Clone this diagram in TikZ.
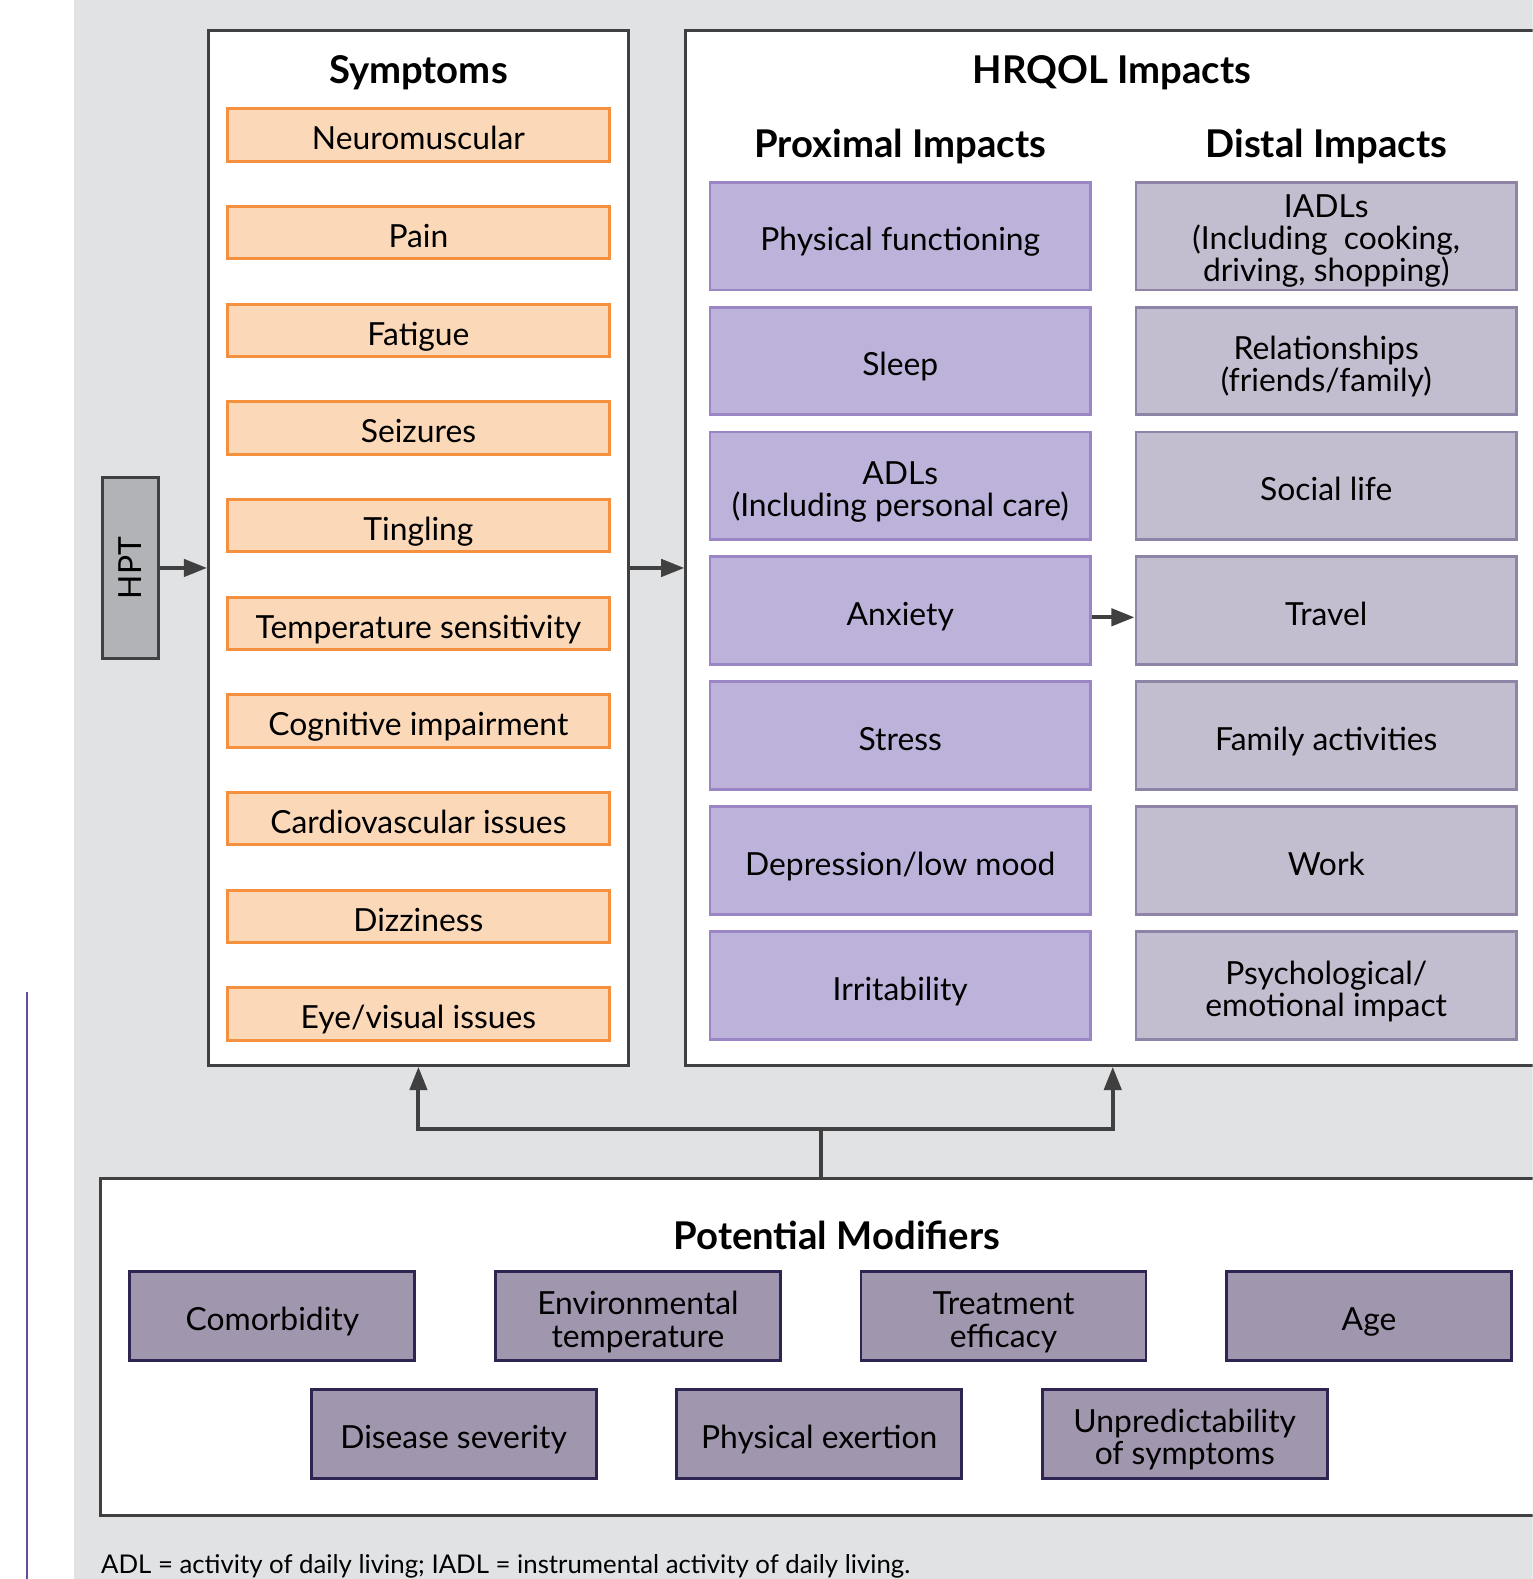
\documentclass[tikz,border=0pt]{standalone}
\usepackage{fontspec}
\setmainfont{Lato}
\usepackage{graphicx}
\usetikzlibrary{arrows.meta, positioning}
\definecolor{panelgray}{HTML}{E1E2E4}
\definecolor{darkline}{HTML}{404040}
\definecolor{symfill}{HTML}{FBD8B8}
\definecolor{symline}{HTML}{F5903E}
\definecolor{proxfill}{HTML}{BDB2D9}
\definecolor{proxline}{HTML}{9B86C5}
\definecolor{distfill}{HTML}{C3BECF}
\definecolor{distline}{HTML}{8E84A6}
\definecolor{modfill}{HTML}{A096AE}
\definecolor{modline}{HTML}{2F2552}
\definecolor{hptfill}{HTML}{B2B3B6}
\definecolor{rulepurple}{HTML}{6A4C9C}

\begin{document}
\begin{tikzpicture}[
  x=0.5pt, y=-0.5pt,
  node distance=21.1pt,
  frame/.style={draw=darkline, line width=1.4pt, fill=white},
  title/.style={font=\bfseries\fontsize{19}{22}\selectfont},
  box/.style={line width=1.4pt, align=center, inner sep=0pt,
    font=\fontsize{15.8}{16}\selectfont,
    execute at begin node={\rule{0pt}{18.7pt}},
    execute at end node={\rule[-4pt]{0pt}{4pt}}},
  twoline/.style={text height=34.7pt, text depth=4pt},
  threeline/.style={text height=49.5pt, text depth=4pt},
  symptom/.style={box, draw=symline, fill=symfill, minimum width=189.5pt, minimum height=26pt},
  prox/.style={box, draw=proxline, fill=proxfill, minimum width=189pt, minimum height=53.5pt},
  distal/.style={box, draw=distline, fill=distfill, minimum width=189pt, minimum height=53.5pt},
  modifier/.style={box, draw=modline, fill=modfill, minimum width=141.5pt, minimum height=44pt},
  hptbox/.style={draw=darkline, fill=hptfill, line width=1.4pt, inner sep=0pt,
    font=\fontsize{15.8}{16}\selectfont, minimum width=27.5pt, minimum height=90pt},
  link/.style={line width=2pt, draw=darkline},
  arr/.style={link, -{Triangle[length=11.5pt, width=8.5pt]}}
]
\useasboundingbox (0,0) rectangle (1522,1568);
\clip (0,0) rectangle (1522,1568);
\fill[panelgray] (73,0) rectangle (1522,1568);
\draw[rulepurple, line width=1.3pt] (27,985) -- (27,1568);

% symptoms column
\node[frame, minimum width=208.5pt, minimum height=514pt] (symp) at (415.5,544) {};
\node[title] (symptitle) at (415.5,72) {Symptoms};
\node[symptom] (neuro) at (415.5,134) {Neuromuscular};
\node[symptom, below=of neuro] (pain) {Pain};
\node[symptom, below=of pain] (fatigue) {Fatigue};
\node[symptom, below=of fatigue] (seizures) {Seizures};
\node[symptom, below=of seizures] (tingling) {Tingling};
\node[symptom, below=of tingling] (tempsens) {Temperature sensitivity};
\node[symptom, below=of tempsens] (cognitive) {Cognitive impairment};
\node[symptom, below=of cognitive] (cardio) {Cardiovascular issues};
\node[symptom, below=of cardio] (dizziness) {Dizziness};
\node[symptom, below=of dizziness] (visual) {Eye/visual issues};

\node[hptbox] (hpt) at (129.5,564) {\rotatebox{90}{HPT}};

% HRQOL impacts
\node[frame, minimum width=424pt, minimum height=514pt] (hrqol) at (1105,544) {};
\node[title] (hrqoltitle) at (1104,72) {HRQOL Impacts};
\node[title] (proxtitle) at (894,145) {Proximal Impacts};
\node[title] (disttitle) at (1317,145) {Distal Impacts};

\node[prox] (physfunc) at (894,234.5) {Physical functioning};
\node[prox, below=7.1pt of physfunc] (sleep) {Sleep};
\node[prox, twoline, below=7.1pt of sleep] (adl) {ADLs\\(Including personal care)};
\node[prox, below=7.1pt of adl] (anxiety) {Anxiety};
\node[prox, below=7.1pt of anxiety] (stress) {Stress};
\node[prox, below=7.1pt of stress] (mood) {Depression/low mood};
\node[prox, below=7.1pt of mood] (irritab) {Irritability};

\node[distal, threeline] (iadl) at (1317,234.5) {IADLs\\(Including\ \ cooking,\\driving, shopping)};
\node[distal, twoline, below=7.1pt of iadl] (relations) {Relationships\\(friends/family)};
\node[distal, below=7.1pt of relations] (social) {Social life};
\node[distal, below=7.1pt of social] (travel) {Travel};
\node[distal, below=7.1pt of travel] (family) {Family activities};
\node[distal, below=7.1pt of family] (work) {Work};
\node[distal, twoline, below=7.1pt of work] (psych) {Psychological/\\emotional impact};

% modifiers
\node[frame, minimum width=715pt, minimum height=167.5pt] (mods) at (815,1337.5) {};
\node[title] (modtitle) at (831,1227) {Potential Modifiers};
\node[modifier] (comorb) at (270.5,1307) {Comorbidity};
\node[modifier, twoline, right=38.6pt of comorb] (envtemp) {Environmental\\temperature};
\node[modifier, twoline, right=38.6pt of envtemp] (efficacy) {Treatment\\efficacy};
\node[modifier, right=38.6pt of efficacy] (age) {Age};
\node[modifier] (severity) at (450.5,1424) {Disease severity};
\node[modifier, right=38.6pt of severity] (exertion) {Physical exertion};
\node[modifier, twoline, right=38.6pt of exertion] (unpredict) {Unpredictability\\of symptoms};

\node[anchor=west, inner sep=0pt, font=\fontsize{12.8}{14}\selectfont] (note) at (100,1555)
  {ADL = activity of daily living; IADL = instrumental activity of daily living.};

% connectors
\draw[arr] (hpt.east) -- (hpt.east -| symp.west);
\draw[arr] (symp.east |- hpt.east) -- (hrqol.west |- hpt.east);
\draw[arr] ([yshift=-3.25pt]anxiety.east) -- ([yshift=-3.25pt]travel.west);
\coordinate (fork) at (815,1121);
\draw[link] (mods.north) -- (fork);
\draw[arr] (fork) -| (symp.south);
\draw[arr] (fork) -| (hrqol.south);
\end{tikzpicture}
\end{document}
